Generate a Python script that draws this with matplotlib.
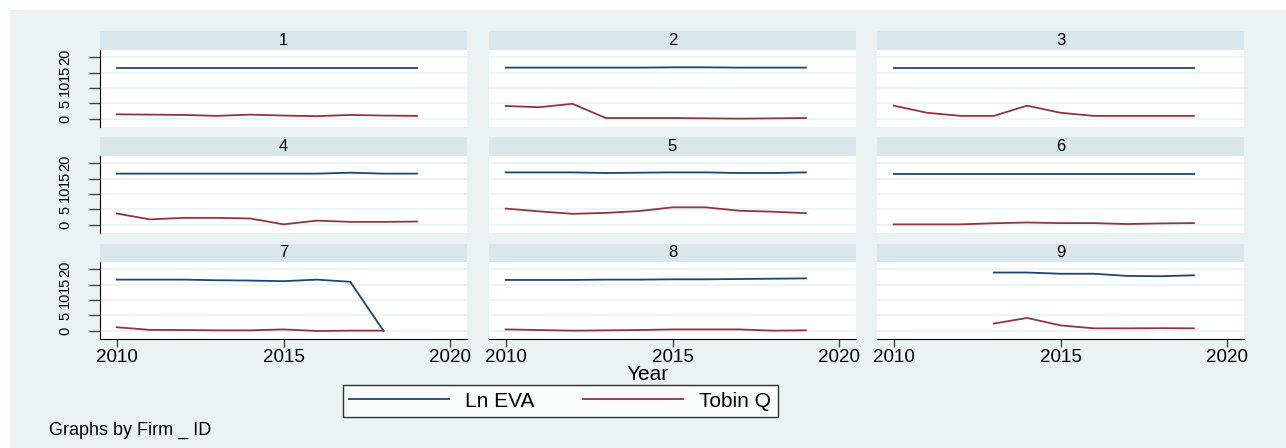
import numpy as np
import matplotlib.pyplot as plt
from matplotlib.lines import Line2D
from matplotlib.patches import Rectangle

# Panel data (Firm_ID 1..9), years 2010-2019; nan = no observation
years = [2010, 2011, 2012, 2013, 2014, 2015, 2016, 2017, 2018, 2019]
firm_ids = [1, 2, 3, 4, 5, 6, 7, 8, 9]
nan = np.nan

ln_eva = [
    [16.4, 16.4, 16.4, 16.4, 16.4, 16.4, 16.4, 16.4, 16.4, 16.4],
    [16.6, 16.6, 16.6, 16.6, 16.6, 16.7, 16.7, 16.6, 16.6, 16.6],
    [16.4, 16.4, 16.4, 16.4, 16.4, 16.4, 16.4, 16.4, 16.4, 16.4],
    [16.6, 16.6, 16.6, 16.6, 16.6, 16.6, 16.6, 16.9, 16.6, 16.6],
    [17.0, 17.0, 17.0, 16.8, 16.9, 17.0, 17.0, 16.8, 16.8, 17.0],
    [16.6, 16.6, 16.6, 16.6, 16.6, 16.6, 16.6, 16.6, 16.6, 16.6],
    [16.6, 16.6, 16.6, 16.4, 16.3, 16.1, 16.6, 15.9, 0.0, nan],
    [16.5, 16.5, 16.5, 16.6, 16.6, 16.7, 16.7, 16.8, 16.9, 17.0],
    [nan, nan, nan, 18.9, 18.9, 18.5, 18.5, 17.8, 17.7, 18.0],
]
tobin_q = [
    [1.5, 1.4, 1.3, 1.0, 1.4, 1.1, 0.9, 1.3, 1.1, 1.0],
    [4.2, 3.8, 4.9, 0.3, 0.3, 0.3, 0.2, 0.1, 0.2, 0.3],
    [4.3, 2.0, 1.0, 1.0, 4.3, 2.0, 1.0, 1.0, 1.0, 1.0],
    [3.7, 1.8, 2.3, 2.3, 2.1, 0.2, 1.4, 1.0, 1.0, 1.1],
    [5.3, 4.4, 3.6, 3.9, 4.5, 5.7, 5.7, 4.6, 4.3, 3.8],
    [0.2, 0.2, 0.2, 0.55, 0.8, 0.6, 0.6, 0.3, 0.5, 0.6],
    [1.2, 0.35, 0.3, 0.2, 0.2, 0.5, 0.0, 0.1, 0.1, nan],
    [0.5, 0.3, 0.1, 0.2, 0.3, 0.5, 0.5, 0.5, 0.1, 0.2],
    [nan, nan, nan, 2.4, 4.2, 1.8, 0.85, 0.85, 0.9, 0.85],
]
x_ticks = [2010, 2015, 2020]
y_ticks = [0, 5, 10, 15, 20]

BG = "#eaf2f3"
STRIP = "#d9e6eb"
NAVY = "#1a476f"
MAROON = "#90353b"

plt.rcParams["font.family"] = ["Liberation Sans", "DejaVu Sans"]

W, H = 1286, 448
fig = plt.figure(figsize=(W / 100, H / 100), dpi=100, facecolor="white")
fig.patches.append(Rectangle((10 / W, 0), 1 - 10 / W, 1 - 10 / H,
                             transform=fig.transFigure, facecolor=BG,
                             edgecolor="none", zorder=-10))


def px_rect(left, top, width, height):
    return [left / W, 1 - (top + height) / H, width / W, height / H]


col_left = [100, 489, 877]
row_top = [50, 156, 262]
pw, ph, sh = 367, 77, 18.5

for k, fid in enumerate(firm_ids):
    r, c = divmod(k, 3)
    ax = fig.add_axes(px_rect(col_left[c], row_top[r], pw, ph))
    ax.set_facecolor("white")
    ax.plot(years, ln_eva[k], color=NAVY, lw=1.3)
    ax.plot(years, tobin_q[k], color=MAROON, lw=1.3)
    ax.set_xlim(2009.5, 2020.5)
    ax.set_ylim(-2.6, 22.3)
    ax.set_yticks(y_ticks)
    ax.set_xticks(x_ticks)
    for y in y_ticks:
        ax.axhline(y, color=BG, lw=1.2, zorder=0)
    for s in ax.spines.values():
        s.set_visible(False)
    if c == 0:
        ax.spines["left"].set_visible(True)
        ax.spines["left"].set_color("black")
        ax.tick_params(axis="y", length=8, width=1, color="#444444", pad=12,
                       labelsize=10.5)
        for lab in ax.get_yticklabels():
            lab.set_rotation(90)
            lab.set_va("center")
    else:
        ax.tick_params(axis="y", left=False, labelleft=False)
    if r == 2:
        ax.spines["bottom"].set_visible(True)
        ax.spines["bottom"].set_color("black")
        ax.tick_params(axis="x", length=6, width=1, color="#444444", pad=1.5,
                       labelsize=13.5)
    else:
        ax.tick_params(axis="x", bottom=False, labelbottom=False)

    sax = fig.add_axes(px_rect(col_left[c], row_top[r] - sh, pw, sh))
    sax.set_facecolor(STRIP)
    sax.set_xticks([])
    sax.set_yticks([])
    for s in sax.spines.values():
        s.set_visible(False)
    sax.text(0.5, 0.5, str(fid), ha="center", va="center", fontsize=12,
             transform=sax.transAxes)

fig.text(648 / W, 1 - 375 / H, "Year", ha="center", va="center", fontsize=15)

handles = [Line2D([], [], color=NAVY, lw=1.3), Line2D([], [], color=MAROON, lw=1.3)]
leg = fig.legend(handles, ["Ln EVA", "Tobin Q"], loc="center",
                 bbox_to_anchor=(560 / W, 1 - 401 / H), ncol=2, fontsize=15,
                 handlelength=4.8, columnspacing=2.3, handletextpad=0.8,
                 frameon=True, fancybox=False, borderpad=0.3, borderaxespad=0)
leg.get_frame().set_edgecolor("black")
leg.get_frame().set_facecolor("white")
leg.get_frame().set_linewidth(1)

fig.text(49 / W, 1 - 430 / H, "Graphs by Firm _ ID", ha="left", va="center",
         fontsize=13)

fig.savefig("out.png", dpi=100, facecolor=fig.get_facecolor())
